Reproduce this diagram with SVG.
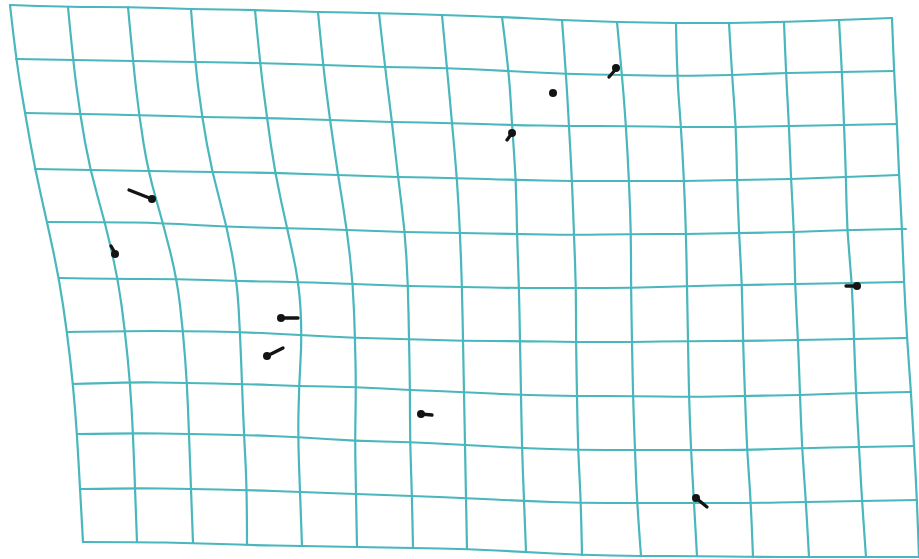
<svg xmlns="http://www.w3.org/2000/svg" width="919" height="559" viewBox="0 0 919 559">
<style>
.g{fill:none;stroke:#49b7bd;stroke-width:2.2;stroke-linejoin:round;stroke-linecap:round}
.t{stroke:#141414;stroke-width:3.3;stroke-linecap:round}
.d{fill:#141414}
</style>
<rect width="919" height="559" fill="#ffffff"/>
<g id="grid-rows">
<path class="g" d="M10,5 Q68,7 98,7 Q128,7 159.5,8 Q191,9 223,9.5 Q255,10 286.5,11 Q318,12 348.5,12.5 Q379,13 410.5,14 Q442,15 472,16 Q502,17 532,18.5 Q562,20 589.5,21 Q617,22 646.5,22.5 Q676,23 702.5,23 Q729,23 756.5,22.5 Q784,22 811.5,21 Q839,20 892,18"/>
<path class="g" d="M16,59 Q73,60 103,60.5 Q133,61 164,61.5 Q195,62 227.5,62.5 Q260,63 291.5,64 Q323,65 354,66 Q385,67 416,67.5 Q447,68 478,69.5 Q509,71 537.5,72.5 Q566,74 594,74.5 Q622,75 649.5,75.5 Q677,76 704.5,75.5 Q732,75 759,74 Q786,73 814,72.5 Q842,72 894,71"/>
<path class="g" d="M25,113 Q80,114 109.5,114.5 Q139,115 170.5,116 Q202,117 234.5,117.5 Q267,118 298.5,119 Q330,120 361,121 Q392,122 422,122.5 Q452,123 482,124 Q512,125 540.5,125.5 Q569,126 597.5,126 Q626,126 653.5,126.5 Q681,127 708.5,127 Q736,127 762.5,126.5 Q789,126 816.5,125.5 Q844,125 897,124"/>
<path class="g" d="M35,169 Q90,170 119,170.5 Q148,171 180,171.5 Q212,172 243.5,172.5 Q275,173 306.5,174 Q338,175 368,176 Q398,177 427.5,177.5 Q457,178 486.5,179 Q516,180 544,180.5 Q572,181 600.5,181 Q629,181 656.5,181 Q684,181 710.5,180.5 Q737,180 764,179.5 Q791,179 818.5,178 Q846,177 899,175"/>
<path class="g" d="M47,222 Q105,222 134,222.5 Q163,223 195,225 Q227,227 257,227.5 Q287,228 317,229 Q347,230 376,231 Q405,232 432.5,232.5 Q460,233 488.5,233.5 Q517,234 545.5,234.5 Q574,235 602.5,234.5 Q631,234 658.5,234 Q686,234 712.5,233.5 Q739,233 766.5,232.5 Q794,232 820.5,231 Q847,230 902,229 L906,229"/>
<path class="g" d="M59,278 Q118,279 147.5,279 Q177,279 207,280 Q237,281 268,281.5 Q299,282 326,283 Q353,284 380.5,285 Q408,286 435,286.5 Q462,287 490.5,287.5 Q519,288 547.5,288 Q576,288 603.5,288 Q631,288 659,287 Q687,286 714.5,285.5 Q742,285 768.5,284.5 Q795,284 823.5,283.5 Q852,283 904,282"/>
<path class="g" d="M67,332 Q125,331 154,331 Q183,331 211.5,331.5 Q240,332 271,333.5 Q302,335 328.5,336.5 Q355,338 382,338.5 Q409,339 436,340 Q463,341 491.5,341 Q520,341 548,341.5 Q576,342 604,342 Q632,342 660,341.5 Q688,341 715.5,341 Q743,341 770.5,340.5 Q798,340 826,339.5 Q854,339 907,338"/>
<path class="g" d="M73,384 Q130,382 158.5,382.5 Q187,383 214.5,383.5 Q242,384 270.5,385 Q299,386 327.5,386.5 Q356,387 383,388.5 Q410,390 437,391 Q464,392 492.5,393.5 Q521,395 549,395.5 Q577,396 605,396 Q633,396 661,396.5 Q689,397 717,396.5 Q745,396 772.5,395.5 Q800,395 828,394 Q856,393 911,392"/>
<path class="g" d="M77,434 Q133,433 161,433.5 Q189,434 216.5,434.5 Q244,435 271,436 Q298,437 326.5,439 Q355,441 382.5,441.5 Q410,442 437.5,443.5 Q465,445 493.5,446.5 Q522,448 550,449 Q578,450 606.5,450 Q635,450 663,450 Q691,450 719,450 Q747,450 774.5,449 Q802,448 830.5,447.5 Q859,447 914,446"/>
<path class="g" d="M80,489 Q135,488 163,488.5 Q191,489 219,489.5 Q247,490 273.5,491 Q300,492 328,493 Q356,494 384,495 Q412,496 439,497 Q466,498 495,499.5 Q524,501 552.5,502 Q581,503 609,503 Q637,503 665.5,503 Q694,503 722.5,503 Q751,503 778.5,502.5 Q806,502 834,501.5 Q862,501 917,500"/>
<path class="g" d="M83,542 Q137,542 165,542.5 Q193,543 220,544 Q247,545 274.5,545.5 Q302,546 329.5,546.5 Q357,547 385,547.5 Q413,548 440,548.5 Q467,549 496.5,550.5 Q526,552 554,553.5 Q582,555 611.5,555.5 Q641,556 669,556 Q697,556 725,556.5 Q753,557 781,557 Q809,557 837.5,557 Q866,557 919,557"/>
</g>
<g id="grid-cols">
<path class="g" d="M10,5 Q16,59 20.5,86 Q25,113 30,141 Q35,169 41,195.5 Q47,222 53,250 Q59,278 63,305 Q67,332 70,358 Q73,384 75,409 Q77,434 78.5,461.5 Q80,489 83,542"/>
<path class="g" d="M68,7 Q73,60 76.5,87 Q80,114 85,142 Q90,170 97.5,196 Q105,222 111.5,250.5 Q118,279 121.5,305 Q125,331 127.5,356.5 Q130,382 131.5,407.5 Q133,433 134,460.5 Q135,488 137,542"/>
<path class="g" d="M128,7 Q133,61 136,88 Q139,115 143.5,143 Q148,171 155.5,197 Q163,223 170,251 Q177,279 180,305 Q183,331 185,357 Q187,383 188,408.5 Q189,434 190,461.5 Q191,489 193,543"/>
<path class="g" d="M191,9 Q195,62 198.5,89.5 Q202,117 207,144.5 Q212,172 219.5,199.5 Q227,227 232,254 Q237,281 238.5,306.5 Q240,332 241,358 Q242,384 243,409.5 Q244,435 245.5,462.5 Q247,490 247,545"/>
<path class="g" d="M255,10 Q260,63 263.5,90.5 Q267,118 271,145.5 Q275,173 281,200.5 Q287,228 293,255 Q299,282 300.5,308.5 Q302,335 300.5,360.5 Q299,386 298.5,411.5 Q298,437 299,464.5 Q300,492 302,546"/>
<path class="g" d="M318,12 Q323,65 326.5,92.5 Q330,120 334,147.5 Q338,175 342.5,202.5 Q347,230 350,257 Q353,284 354,311 Q355,338 355.5,362.5 Q356,387 355.5,414 Q355,441 355.5,467.5 Q356,494 357,547"/>
<path class="g" d="M379,13 Q385,67 388.5,94.5 Q392,122 395,149.5 Q398,177 401.5,204.5 Q405,232 406.5,259 Q408,286 408.5,312.5 Q409,339 409.5,364.5 Q410,390 410,416 Q410,442 411,469 Q412,496 413,548"/>
<path class="g" d="M442,15 Q447,68 449.5,95.5 Q452,123 454.5,150.5 Q457,178 458.5,205.5 Q460,233 461,260 Q462,287 462.5,314 Q463,341 463.5,366.5 Q464,392 464.5,418.5 Q465,445 465.5,471.5 Q466,498 467,549"/>
<path class="g" d="M502,17 Q509,71 510.5,98 Q512,125 514,152.5 Q516,180 516.5,207 Q517,234 518,261 Q519,288 519.5,314.5 Q520,341 520.5,368 Q521,395 521.5,421.5 Q522,448 523,474.5 Q524,501 526,552"/>
<path class="g" d="M562,20 Q566,74 567.5,100 Q569,126 570.5,153.5 Q572,181 573,208 Q574,235 575,261.5 Q576,288 576,315 Q576,342 576.5,369 Q577,396 577.5,423 Q578,450 579.5,476.5 Q581,503 582,555"/>
<path class="g" d="M617,22 Q622,75 624,100.5 Q626,126 627.5,153.5 Q629,181 630,207.5 Q631,234 631,261 Q631,288 631.5,315 Q632,342 632.5,369 Q633,396 634,423 Q635,450 636,476.5 Q637,503 641,556"/>
<path class="g" d="M676,23 Q677,76 679,101.5 Q681,127 682.5,154 Q684,181 685,207.5 Q686,234 686.5,260 Q687,286 687.5,313.5 Q688,341 688.5,369 Q689,397 690,423.5 Q691,450 692.5,476.5 Q694,503 697,556"/>
<path class="g" d="M729,23 Q732,75 734,101 Q736,127 736.5,153.5 Q737,180 738,206.5 Q739,233 740.5,259 Q742,285 742.5,313 Q743,341 744,368.5 Q745,396 746,423 Q747,450 749,476.5 Q751,503 753,557"/>
<path class="g" d="M784,22 Q786,73 787.5,99.5 Q789,126 790,152.5 Q791,179 792.5,205.5 Q794,232 794.5,258 Q795,284 796.5,312 Q798,340 799,367.5 Q800,395 801,421.5 Q802,448 804,475 Q806,502 809,557"/>
<path class="g" d="M839,20 Q842,72 843,98.5 Q844,125 845,151 Q846,177 846.5,203.5 Q847,230 849.5,256.5 Q852,283 853,311 Q854,339 855,366 Q856,393 857.5,420 Q859,447 860.5,474 Q862,501 866,557"/>
<path class="g" d="M892,18 Q894,71 895.5,97.5 Q897,124 898,149.5 Q899,175 900.5,202 Q902,229 903,255.5 Q904,282 905.5,310 Q907,338 909,365 Q911,392 912.5,419 Q914,446 915.5,473 Q917,500 919,557"/>
</g>
<g id="pins">
<g id="pin1"><line class="t" x1="152" y1="199" x2="129" y2="190"/><circle class="d" cx="152" cy="199" r="4"/></g>
<g id="pin2"><line class="t" x1="115" y1="253" x2="111" y2="246"/><circle class="d" cx="115" cy="254" r="4"/></g>
<g id="pin3"><circle class="d" cx="553" cy="93" r="4"/></g>
<g id="pin4"><line class="t" x1="616" y1="69" x2="609" y2="77"/><circle class="d" cx="616" cy="68" r="4"/></g>
<g id="pin5"><line class="t" x1="512" y1="133" x2="507" y2="140"/><circle class="d" cx="512" cy="133" r="4"/></g>
<g id="pin6"><line class="t" x1="281" y1="318" x2="298" y2="318"/><circle class="d" cx="281" cy="318" r="4"/></g>
<g id="pin7"><line class="t" x1="267" y1="356" x2="283" y2="348"/><circle class="d" cx="267" cy="356" r="4"/></g>
<g id="pin8"><line class="t" x1="421" y1="414" x2="432" y2="415"/><circle class="d" cx="421" cy="414" r="4"/></g>
<g id="pin9"><line class="t" x1="857" y1="286" x2="846" y2="286"/><circle class="d" cx="857" cy="286" r="4"/></g>
<g id="pin10"><line class="t" x1="696" y1="498" x2="707" y2="507"/><circle class="d" cx="696" cy="498" r="4"/></g>
</g>
</svg>
